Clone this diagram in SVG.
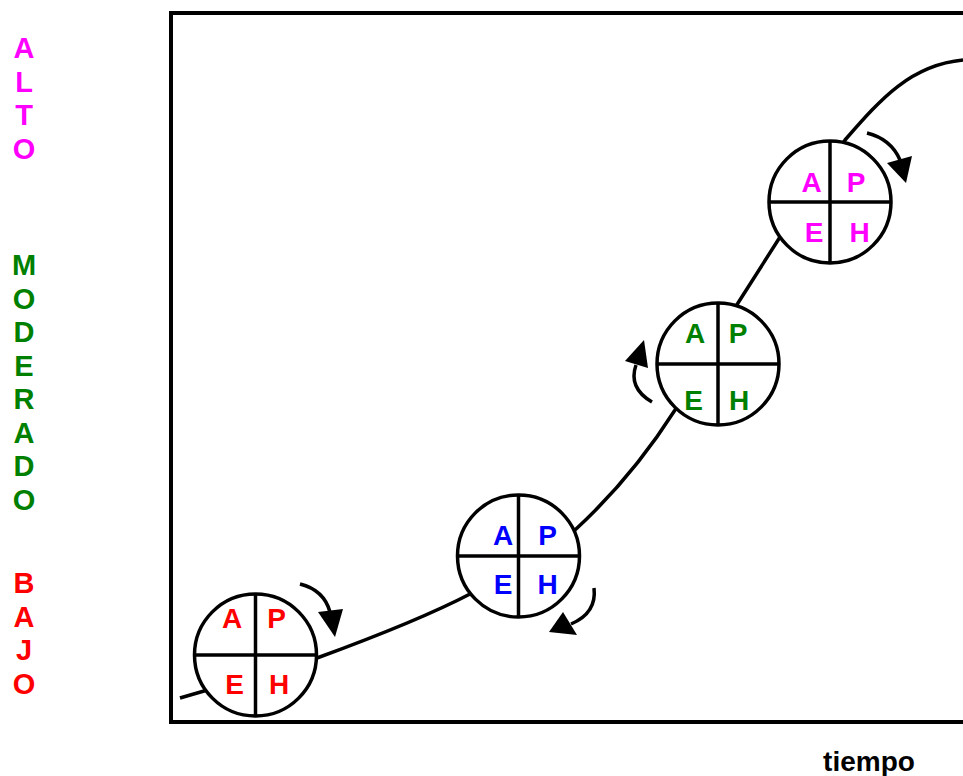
<svg xmlns="http://www.w3.org/2000/svg" width="963" height="776" viewBox="0 0 963 776">
  <style>
    .frame { fill: none; stroke: #000; stroke-width: 4; }
    .curve { fill: none; stroke: #000; stroke-width: 3.5; }
    .ring { fill: #fff; stroke: #000; stroke-width: 3.5; }
    .cross { stroke: #000; stroke-width: 3.5; }
    .turn { fill: none; stroke: #000; stroke-width: 3.5; }
    .head { fill: #000; }
    text { font-family: "Liberation Sans", Arial, sans-serif; font-weight: bold; text-anchor: middle; }
    .q { font-size: 28px; }
    .side { font-size: 29px; }
    .red { fill: #ff0000; }
    .blue { fill: #0000ff; }
    .green { fill: #008000; }
    .mag { fill: #ff00ff; }
  </style>

  <!-- plot frame (right edge runs off the canvas) -->
  <rect class="frame" x="171" y="13" width="840" height="709"/>

  <!-- level labels -->
  <g id="label-alto" class="side mag">
    <text x="24" y="58">A</text>
    <text x="24" y="91.5">L</text>
    <text x="24" y="125">T</text>
    <text x="24" y="158.5">O</text>
  </g>
  <g id="label-moderado" class="side green">
    <text x="24" y="275">M</text>
    <text x="24" y="308.5">O</text>
    <text x="24" y="342">D</text>
    <text x="24" y="375.5">E</text>
    <text x="24" y="409">R</text>
    <text x="24" y="442.5">A</text>
    <text x="24" y="476">D</text>
    <text x="24" y="509.5">O</text>
  </g>
  <g id="label-bajo" class="side red">
    <text x="24" y="593">B</text>
    <text x="24" y="626.5">A</text>
    <text x="24" y="660">J</text>
    <text x="24" y="693.5">O</text>
  </g>

  <text id="label-tiempo" x="869" y="771" style="font-size:28px" fill="#000">tiempo</text>

  <!-- connectors: growth curve and rotation arrows -->
  <g id="connectors">
    <path class="curve" d="M180,698 L317,658 C380,635 430,615 472,593 L575,530 C600,507 640,465 675,410 L738,303 L780,237 L845,140 C880,100 910,65 963,60"/>

    <path class="turn" d="M300,584 Q324,590 330,612"/>
    <polygon class="head" points="318,612 343,609 335,637"/>

    <path class="turn" d="M594,588 Q597,613 571,624"/>
    <polygon class="head" points="563,612 577,635 549,632"/>

    <path class="turn" d="M652,402 Q628,388 636,365"/>
    <polygon class="head" points="625,361 648,368 644,340"/>

    <path class="turn" d="M867,133 Q891,139 900,160"/>
    <polygon class="head" points="887,163 912,156 906,183"/>
  </g>

  <!-- cycle nodes -->
  <g id="cycle-bajo">
    <circle class="ring" cx="255.5" cy="655" r="61"/>
    <line class="cross" x1="255.5" y1="594" x2="255.5" y2="716"/>
    <line class="cross" x1="194.5" y1="655" x2="316.5" y2="655"/>
    <g class="q red">
      <text x="232" y="628">A</text>
      <text x="276.5" y="628">P</text>
      <text x="234.5" y="694">E</text>
      <text x="279" y="694">H</text>
    </g>
  </g>

  <g id="cycle-medio">
    <circle class="ring" cx="518.5" cy="556" r="61"/>
    <line class="cross" x1="518.5" y1="495" x2="518.5" y2="617"/>
    <line class="cross" x1="457.5" y1="556" x2="579.5" y2="556"/>
    <g class="q blue">
      <text x="503" y="545">A</text>
      <text x="547.5" y="545">P</text>
      <text x="503" y="594">E</text>
      <text x="547.5" y="594">H</text>
    </g>
  </g>

  <g id="cycle-moderado">
    <circle class="ring" cx="718" cy="364" r="61"/>
    <line class="cross" x1="718" y1="303" x2="718" y2="425"/>
    <line class="cross" x1="657" y1="364" x2="779" y2="364"/>
    <g class="q green">
      <text x="695" y="343">A</text>
      <text x="738" y="343">P</text>
      <text x="693.5" y="410">E</text>
      <text x="739" y="410">H</text>
    </g>
  </g>

  <g id="cycle-alto">
    <circle class="ring" cx="830" cy="202" r="61"/>
    <line class="cross" x1="830" y1="141" x2="830" y2="263"/>
    <line class="cross" x1="769" y1="202" x2="891" y2="202"/>
    <g class="q mag">
      <text x="811.5" y="192">A</text>
      <text x="856" y="192">P</text>
      <text x="814" y="242">E</text>
      <text x="859.5" y="242">H</text>
    </g>
  </g>
</svg>
